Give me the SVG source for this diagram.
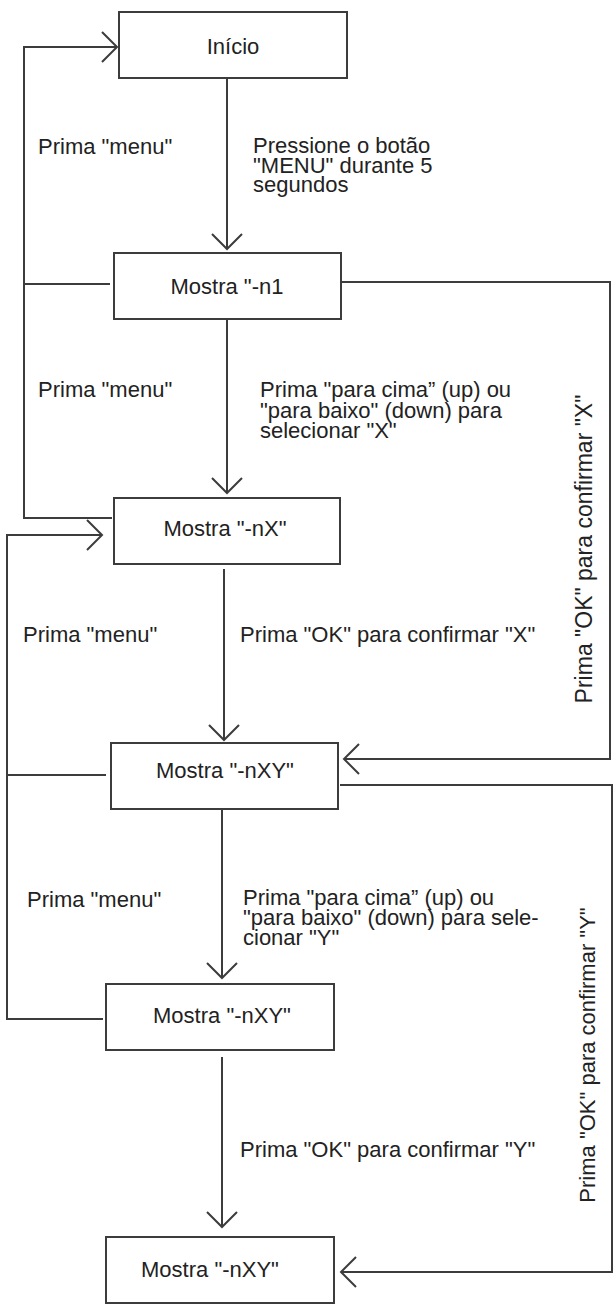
<svg xmlns="http://www.w3.org/2000/svg" width="615" height="1307" viewBox="0 0 615 1307">
<style>
.box{fill:#fff;stroke:#3c3c3c;stroke-width:2}
.t{font-family:"Liberation Sans",Arial,sans-serif;font-size:22px;fill:#222}
.c{text-anchor:middle}
.ln{fill:none;stroke:#3c3c3c;stroke-width:2}
.ar{marker-end:url(#v)}
</style>
<defs>
<marker id="v" markerUnits="userSpaceOnUse" markerWidth="40" markerHeight="40" viewBox="-20 -20 40 40" refX="0" refY="0" orient="auto">
<path d="M-15,-15 L0,0 L-15,15" fill="none" stroke="#3c3c3c" stroke-width="2"/>
</marker>
</defs>
<rect width="615" height="1307" fill="#fff"/>
<g id="connectors">
<path class="ln ar" d="M227,78 V249"/>
<path class="ln ar" d="M227,320 V493"/>
<path class="ln ar" d="M224,569 V740"/>
<path class="ln ar" d="M222,809 V978"/>
<path class="ln ar" d="M222,1057 V1227"/>
<path class="ln ar" d="M112,518 H24 V47 H117"/>
<path class="ln" d="M110,284 H24"/>
<path class="ln ar" d="M106,775 H7 V535 H102"/>
<path class="ln" d="M103,1019 H7 V775"/>
<path class="ln ar" d="M339,282 H610 V759 H344"/>
<path class="ln ar" d="M340,785 H612 V1272 H341"/>
</g>
<g id="n-inicio"><rect class="box" x="119" y="12" width="228" height="66"/><text class="t c" x="233" y="54">Início</text></g>
<g id="n-n1"><rect class="box" x="114" y="253" width="227" height="66"/><text class="t c" x="227" y="294">Mostra "-n1</text></g>
<g id="n-nx"><rect class="box" x="114" y="498" width="226" height="66"/><text class="t c" x="225" y="536">Mostra "-nX"</text></g>
<g id="n-nxy1"><rect class="box" x="111" y="743" width="227" height="66"/><text class="t c" x="225" y="778">Mostra "-nXY"</text></g>
<g id="n-nxy2"><rect class="box" x="106" y="984" width="228" height="66"/><text class="t c" x="222" y="1023">Mostra "-nXY"</text></g>
<g id="n-nxy3"><rect class="box" x="106" y="1237" width="228" height="66"/><text class="t c" x="210" y="1277">Mostra "-nXY"</text></g>
<g id="labels">
<text class="t" x="38" y="154">Prima "menu"</text>
<text class="t" x="38" y="397">Prima "menu"</text>
<text class="t" x="23" y="642">Prima "menu"</text>
<text class="t" x="27" y="907">Prima "menu"</text>
<text class="t" x="253" y="153">Pressione o botão</text>
<text class="t" x="253" y="173">"MENU" durante 5</text>
<text class="t" x="253" y="192">segundos</text>
<text class="t" x="260" y="397">Prima "para cima” (up) ou</text>
<text class="t" x="260" y="418">"para baixo" (down) para</text>
<text class="t" x="260" y="438">selecionar "X"</text>
<text class="t" x="240" y="642">Prima "OK" para confirmar "X"</text>
<text class="t" x="243" y="905">Prima "para cima” (up) ou</text>
<text class="t" x="243" y="925">"para baixo" (down) para sele-</text>
<text class="t" x="243" y="945">cionar "Y"</text>
<text class="t" x="240" y="1157">Prima "OK" para confirmar "Y"</text>
<text class="t c" style="font-size:23px" transform="translate(592,549) rotate(-90)">Prima "OK" para confirmar "X"</text>
<text class="t c" transform="translate(595,1055) rotate(-90)">Prima "OK" para confirmar "Y"</text>
</g>
</svg>
